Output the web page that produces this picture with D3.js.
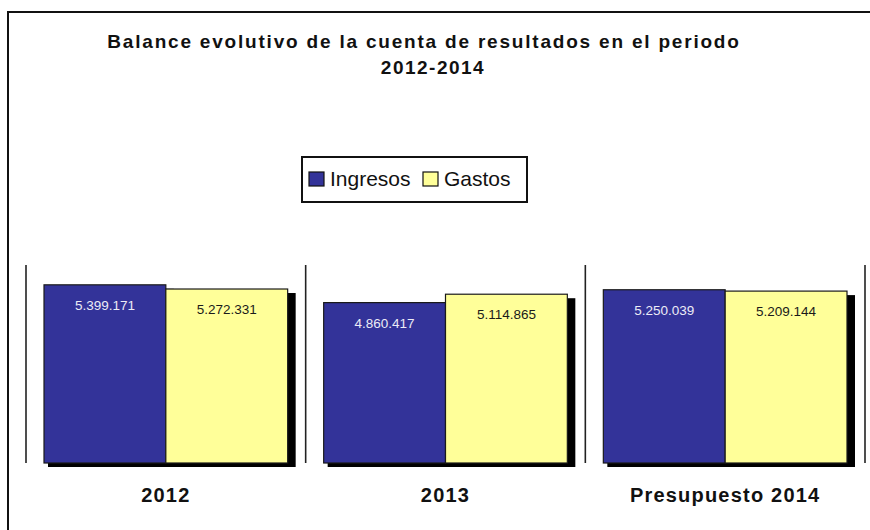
<!DOCTYPE html>
<html>
<head>
<meta charset="utf-8" />
<title>Balance evolutivo</title>
<script src="https://d3js.org/d3.v7.min.js"></script>
<style>
  body { margin: 0; background: #fff; }
  svg { display: block; font-family: "Liberation Sans", Arial, sans-serif; }
</style>
</head>
<body>
<svg id="chart" width="870" height="530"></svg>
<script>
// data
const categories = ["2012", "2013", "Presupuesto 2014"];
const seriesNames = ["Ingresos", "Gastos"];
const ingresos = [5399171, 4860417, 5250039];
const gastos = [5272331, 5114865, 5209144];
const colors = { Ingresos: "#333399", Gastos: "#FFFF99" };
const labelColors = { Ingresos: "#ececf6", Gastos: "#1a1a1a" };

const fmt = (v) => d3.format(",")(v).replace(/,/g, ".");

const svg = d3.select("#chart");

// outer frame (runs off the right and bottom edges)
svg.append("rect")
  .attr("x", 8).attr("y", 12)
  .attr("width", 900).attr("height", 560)
  .attr("fill", "none")
  .attr("stroke", "#111")
  .attr("stroke-width", 2);

// title
const title = svg.append("g")
  .attr("font-weight", "bold")
  .attr("font-size", 19)
  .attr("fill", "#111")
  .attr("text-anchor", "middle");
title.append("text").attr("x", 424).attr("y", 48)
  .attr("letter-spacing", 1.8)
  .text("Balance evolutivo de la cuenta de resultados en el periodo");
title.append("text").attr("x", 433).attr("y", 74)
  .attr("letter-spacing", 1.5)
  .text("2012-2014");

// scales
const x = d3.scaleBand().domain(categories).range([26, 865]);
const xs = d3.scaleBand().domain(seriesNames).range([18, x.bandwidth() - 18]);
const y = d3.scaleLinear().domain([0, 6000000]).range([463, 265]);

const data = categories.map((c, i) => ({
  cat: c,
  values: [
    { name: "Ingresos", value: ingresos[i] },
    { name: "Gastos", value: gastos[i] }
  ]
}));

// category separators
svg.append("g").selectAll("line")
  .data(categories.concat(["end"]))
  .join("line")
  .attr("x1", (d, i) => i < categories.length ? x(d) : x.range()[1])
  .attr("x2", (d, i) => i < categories.length ? x(d) : x.range()[1])
  .attr("y1", y.range()[1])
  .attr("y2", y.range()[0])
  .attr("stroke", "#222")
  .attr("stroke-width", 1.6);

const groups = svg.append("g").selectAll("g")
  .data(data)
  .join("g")
  .attr("transform", (d) => `translate(${x(d.cat)},0)`);

// shadows
groups.selectAll("rect.shadow")
  .data((d) => d.values)
  .join("rect")
  .attr("class", "shadow")
  .attr("x", (d) => xs(d.name) + 4)
  .attr("y", (d) => y(d.value) + 4)
  .attr("width", xs.bandwidth() + 4)
  .attr("height", (d) => y(0) - y(d.value))
  .attr("fill", "#000");

// bars
groups.selectAll("rect.bar")
  .data((d) => d.values)
  .join("rect")
  .attr("class", "bar")
  .attr("x", (d) => xs(d.name))
  .attr("y", (d) => y(d.value))
  .attr("width", xs.bandwidth())
  .attr("height", (d) => y(0) - y(d.value))
  .attr("fill", (d) => colors[d.name])
  .attr("stroke", "#1a1a1a")
  .attr("stroke-width", 1.2);

// value labels
groups.selectAll("text.val")
  .data((d) => d.values)
  .join("text")
  .attr("class", "val")
  .attr("x", (d) => xs(d.name) + xs.bandwidth() / 2)
  .attr("y", (d) => y(d.value) + 25)
  .attr("text-anchor", "middle")
  .attr("font-size", 13.5)
  .attr("fill", (d) => labelColors[d.name])
  .text((d) => fmt(d.value));

// category labels
svg.append("g").selectAll("text")
  .data(categories)
  .join("text")
  .attr("x", (d) => x(d) + x.bandwidth() / 2)
  .attr("y", 502)
  .attr("text-anchor", "middle")
  .attr("font-size", 20)
  .attr("font-weight", "bold")
  .attr("letter-spacing", 1.2)
  .attr("fill", "#111")
  .text((d) => d);

// legend
const legend = svg.append("g").attr("transform", "translate(302,157)");
legend.append("rect")
  .attr("width", 225).attr("height", 45)
  .attr("fill", "#fff")
  .attr("stroke", "#111")
  .attr("stroke-width", 2);
const items = legend.selectAll("g.item")
  .data(seriesNames)
  .join("g")
  .attr("class", "item")
  .attr("transform", (d, i) => `translate(${[7, 121][i]},0)`);
items.append("rect")
  .attr("y", 15).attr("width", 15).attr("height", 14)
  .attr("fill", (d) => colors[d])
  .attr("stroke", "#111")
  .attr("stroke-width", 1.2);
items.append("text")
  .attr("x", 21).attr("y", 29)
  .attr("font-size", 21)
  .attr("fill", "#111")
  .text((d) => d);
</script>
</body>
</html>
